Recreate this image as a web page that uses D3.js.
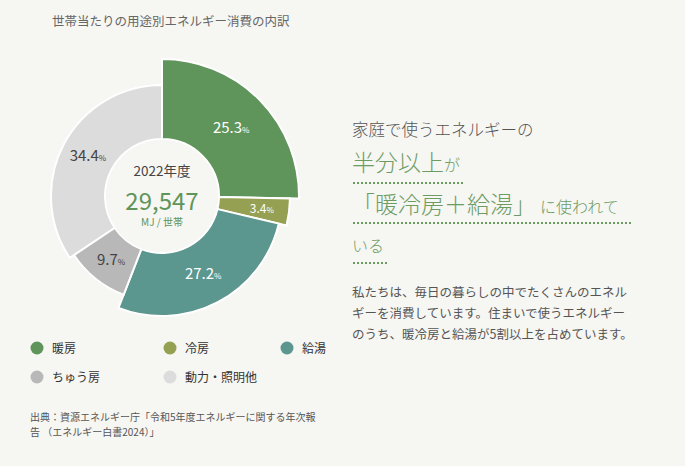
<!DOCTYPE html><html><head><meta charset="utf-8"><script src="https://cdn.jsdelivr.net/npm/d3@7"></script>
<style>body{margin:0;background:#f6f6f3;font-family:"Noto Sans CJK JP",sans-serif}</style></head><body><svg id="c" width="685" height="466"></svg>
<script>
const categories=["暖房","冷房","給湯","ちゅう房","動力・照明他"];
const values=[25.3,3.4,27.2,9.7,34.4];
const outerR=[137,128,120,106,111];
const colors=["#5f955a","#96a052","#5b968f","#b8b8b8","#dcdcdc"];
const labelColors=["#fff","#fff","#fff","#444","#444"];
const svg=d3.select("#c");
svg.append("rect").attr("width",685).attr("height",466).attr("fill","#f6f6f3");
svg.append("text").attr("x",52).attr("y",26).attr("font-size",12.5).attr("fill","#666").text("世帯当たりの用途別エネルギー消費の内訳");
const cx=162,cy=196,ir=57;
const pie=d3.pie().sort(null).value(d=>d)(values);
const g=svg.append("g").attr("transform",`translate(${cx},${cy})`);
pie.forEach((p,i)=>{
 const arc=d3.arc().innerRadius(ir).outerRadius(outerR[i]);
 g.append("path").attr("d",arc(p)).attr("fill",colors[i]).attr("stroke","#fff").attr("stroke-width",2);
 const c=arc.centroid(p);
 const t=g.append("text").attr("x",c[0]+(i==1?8:0)).attr("y",c[1]+5).attr("text-anchor","middle").attr("fill",labelColors[i]).attr("font-size",i==1?12:15);
 t.append("tspan").text(values[i].toFixed(1));
 t.append("tspan").attr("font-size",8).text("%");
});
g.append("circle").attr("r",ir-1).attr("fill","#f6f6f3");
g.append("text").attr("y",-20).attr("text-anchor","middle").attr("font-size",13.5).attr("fill","#444").text("2022年度");
g.append("text").attr("y",14).attr("text-anchor","middle").attr("font-size",24).attr("fill","#5f955a").text("29,547");
g.append("text").attr("y",30).attr("text-anchor","middle").attr("font-size",10).attr("fill","#5f955a").text("MJ / 世帯");
const lx=[30,163,280,30,163], ly=[348,348,348,377,377];
categories.forEach((c,i)=>{
 svg.append("circle").attr("cx",lx[i]+7).attr("cy",ly[i]).attr("r",6.5).attr("fill",colors[i]);
 svg.append("text").attr("x",lx[i]+22).attr("y",ly[i]+4.5).attr("font-size",12).attr("fill","#333").text(c);
});
svg.append("text").attr("x",352).attr("y",136).attr("font-size",16.5).attr("fill","#555").attr("font-weight",300).text("家庭で使うエネルギーの");
const gr="#6d9c63";
let t1=svg.append("text").attr("x",352).attr("y",171).attr("fill",gr).attr("font-weight",300);
t1.append("tspan").attr("font-size",23).text("半分以上");t1.append("tspan").attr("font-size",16).text("が");
let t2=svg.append("text").attr("x",352).attr("y",213).attr("fill",gr).attr("font-weight",300);
t2.append("tspan").attr("font-size",23).text("「暖冷房＋給湯」");t2.append("tspan").attr("font-size",16).attr("dx",4).text("に使われて");
svg.append("text").attr("x",352).attr("y",252).attr("font-size",16).attr("fill",gr).attr("font-weight",300).text("いる");
[[183,465],[223,632],[263,388]].forEach(([y,x2])=>svg.append("line").attr("x1",353).attr("x2",x2).attr("y1",y).attr("y2",y).attr("stroke",gr).attr("stroke-width",2).attr("stroke-dasharray","2,2"));
["私たちは、毎日の暮らしの中でたくさんのエネル","ギーを消費しています。住まいで使うエネルギー","のうち、暖冷房と給湯が5割以上を占めています。"].forEach((s,i)=>svg.append("text").attr("x",352).attr("y",297+i*21).attr("font-size",12.5).attr("fill","#555").text(s));
["出典：資源エネルギー庁「令和5年度エネルギーに関する年次報","告 （エネルギー白書2024）」"].forEach((s,i)=>svg.append("text").attr("x",30).attr("y",421+i*15).attr("font-size",10).attr("fill","#555").text(s));
</script></body></html>
